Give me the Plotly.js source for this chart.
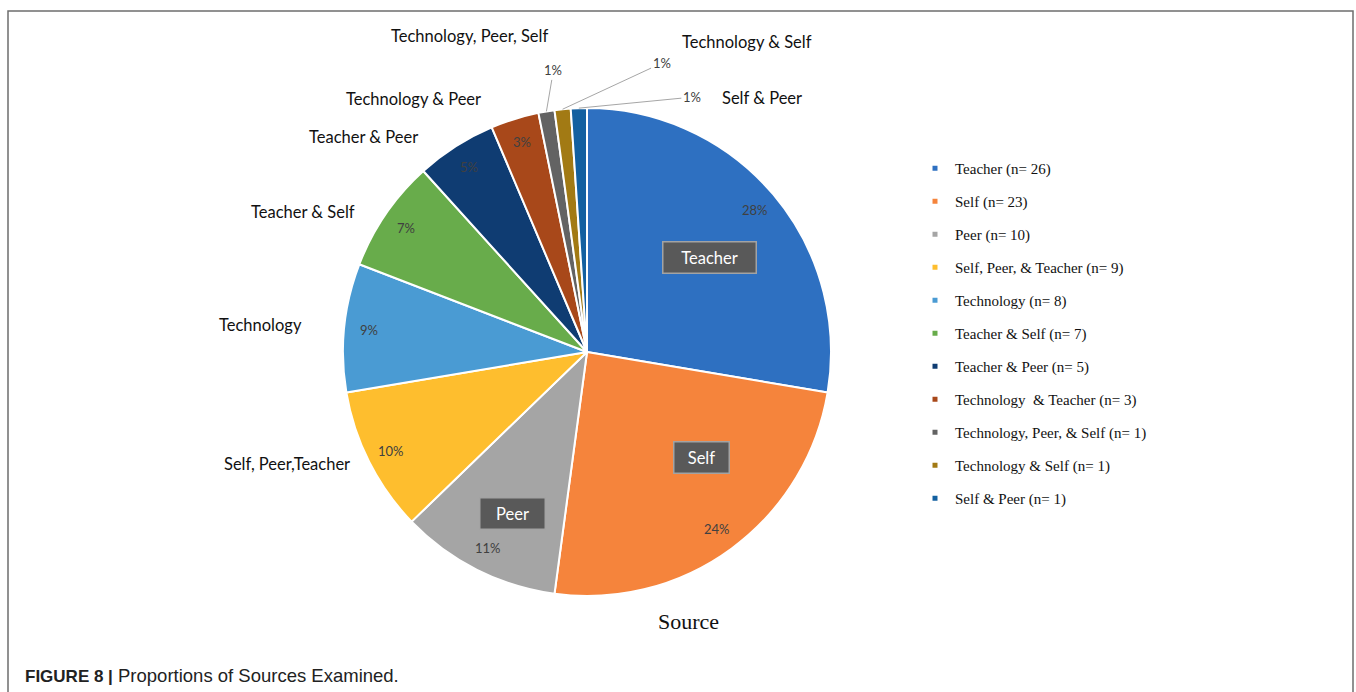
<!DOCTYPE html>
<html>
<head>
<meta charset="utf-8">
<script src="https://cdn.plot.ly/plotly-3.0.1.min.js"></script>
<style>
  html, body { margin: 0; padding: 0; background: #ffffff; }
  #chart { width: 1356px; height: 692px; }
</style>
</head>
<body>
<div id="chart"></div>
<script>
// ---------------- data ----------------
const sliceLabels = ['Teacher', 'Self', 'Peer', 'Self, Peer,Teacher', 'Technology', 'Teacher & Self',
  'Teacher & Peer', 'Technology & Peer', 'Technology, Peer, Self', 'Technology & Self', 'Self & Peer'];
const legendNames = ['Teacher', 'Self', 'Peer', 'Self, Peer, & Teacher', 'Technology', 'Teacher & Self',
  'Teacher & Peer', 'Technology  & Teacher', 'Technology, Peer, & Self', 'Technology & Self', 'Self & Peer'];
const counts = [26, 23, 10, 9, 8, 7, 5, 3, 1, 1, 1];
const chartTitle = 'Source';
const captionBold = 'FIGURE 8 |';
const captionText = 'Proportions of Sources Examined.';

// ---------------- styles / layout ----------------
const colors = ['#2E70C1', '#F5843C', '#A5A5A5', '#FEBE2E', '#4A9BD3', '#68AC4B',
  '#0F3C72', '#A8481A', '#636363', '#A27A14', '#1360A0'];
const W = 1356, H = 692;
const CX = 587, CY = 352, R = 244;
const X = px => px / W;
const Y = py => 1 - py / H;
const sans = 'Lato, "Open Sans", sans-serif';
const serif = '"Liberation Serif", "Times New Roman", serif';

// outside category label centres (px)
const labelPos = [null, null, null, [287, 464], [260, 325], [303, 212], [363, 137], [414, 99], [469, 36], [747, 42], [762, 98]];
// boxed labels inside big slices (px): centre x, centre y, width
const boxPos = [[709, 257, 94], [701, 457, 56], [512, 513, 66]];
// leader-line text offsets for the tiny slices (px)
const leaderOffset = { 8: [7, -41], 9: [99, -46], 10: [113, -11] };

const total = counts.reduce((a, b) => a + b, 0);

const traces = [{
  type: 'pie',
  values: counts,
  labels: legendNames,
  sort: false,
  direction: 'clockwise',
  rotation: 0,
  marker: { colors: colors, line: { color: '#ffffff', width: 2 } },
  textinfo: 'none',
  hoverinfo: 'label+value+percent',
  showlegend: false,
  domain: { x: [X(CX - R), X(CX + R)], y: [Y(CY + R), Y(CY - R)] }
}];

// legend entries (small square markers)
legendNames.forEach((n, i) => {
  traces.push({
    type: 'scatter', mode: 'markers', x: [null], y: [null],
    name: n + ' (n= ' + counts[i] + ')',
    legendgroup: 'g' + i,
    marker: { symbol: 'square', size: 5, color: colors[i] },
    hoverinfo: 'skip'
  });
});

const annotations = [];
let cum = 0;
counts.forEach((v, i) => {
  const mid = (cum + v / 2) / total;
  cum += v;
  const th = 2 * Math.PI * mid;
  const pct = Math.round(100 * v / total) + '%';
  if (leaderOffset[i]) {
    annotations.push({
      xref: 'paper', yref: 'paper',
      x: X(CX + R * Math.sin(th)), y: Y(CY - R * Math.cos(th)),
      ax: leaderOffset[i][0], ay: leaderOffset[i][1],
      text: pct, showarrow: true, arrowhead: 0, arrowwidth: 1, arrowcolor: '#a6a6a6', standoff: 0,
      font: { family: sans, size: 13, color: '#404040' }
    });
  } else {
    annotations.push({
      xref: 'paper', yref: 'paper',
      x: X(CX + 0.9 * R * Math.sin(th)), y: Y(CY - 0.9 * R * Math.cos(th)),
      xanchor: 'center', yanchor: 'middle',
      text: pct, showarrow: false,
      font: { family: sans, size: 13, color: '#404040' }
    });
  }
  if (labelPos[i]) {
    annotations.push({
      xref: 'paper', yref: 'paper', x: X(labelPos[i][0]), y: Y(labelPos[i][1]),
      xanchor: 'center', yanchor: 'middle', showarrow: false,
      text: sliceLabels[i], font: { family: sans, size: 16.5, color: '#111111' }
    });
  }
});
boxPos.forEach((b, i) => {
  annotations.push({
    xref: 'paper', yref: 'paper', x: X(b[0]), y: Y(b[1]),
    xanchor: 'center', yanchor: 'middle', showarrow: false,
    text: sliceLabels[i], width: b[2] - 4, height: 28,
    bgcolor: '#595959', bordercolor: '#a3a3a3', borderwidth: 1.5,
    font: { family: sans, size: 16.5, color: '#ffffff' }
  });
});
annotations.push({
  xref: 'paper', yref: 'paper', x: X(688), y: Y(621), xanchor: 'center', yanchor: 'middle',
  showarrow: false, text: chartTitle, font: { family: serif, size: 22, color: '#111111' }
});
annotations.push({
  xref: 'paper', yref: 'paper', x: X(23), y: Y(675), xanchor: 'left', yanchor: 'middle',
  showarrow: false,
  text: '<b><span style="font-size:17px">' + captionBold + '</span></b> ' + captionText,
  font: { family: '"Liberation Sans", Arial, sans-serif', size: 18.5, color: '#222222' }
});

const layout = {
  width: W, height: H,
  margin: { l: 0, r: 0, t: 0, b: 0 },
  paper_bgcolor: '#ffffff', plot_bgcolor: 'rgba(0,0,0,0)',
  xaxis: { visible: false }, yaxis: { visible: false },
  showlegend: true,
  legend: {
    x: X(915), y: Y(152), xanchor: 'left', yanchor: 'top',
    traceorder: 'grouped', tracegroupgap: 10.5,
    font: { family: serif, size: 15, color: '#111111' },
    bgcolor: 'rgba(0,0,0,0)'
  },
  annotations: annotations,
  shapes: [{
    type: 'rect', xref: 'paper', yref: 'paper',
    x0: X(8), x1: X(1353), y0: -0.1, y1: Y(11),
    line: { color: '#6e6e6e', width: 1.5 }
  }]
};

Plotly.newPlot('chart', traces, layout, { displayModeBar: false, staticPlot: true });
</script>
</body>
</html>
